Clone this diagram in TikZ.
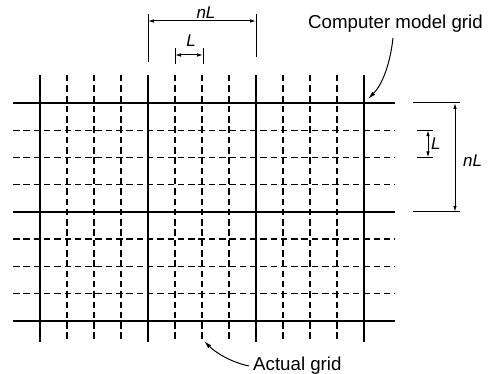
\documentclass[tikz,border=0pt]{standalone}
\usepackage{fontspec}
\setmainfont{Liberation Sans}
\usetikzlibrary{arrows.meta}
\begin{document}
\begin{tikzpicture}[x=1pt,y=-1pt,
  solidline/.style={line width=1.9pt},
  dashline/.style={line width=1.2pt,dash pattern=on 6.5pt off 3.8pt},
  dimline/.style={line width=1pt},
  dimarrow/.style={line width=1pt,{Latex[length=6pt,width=3.6pt]}-{Latex[length=6pt,width=3.6pt]}},
  lead/.style={line width=1pt,-{Latex[length=8pt,width=4pt]}},
  lbl/.style={font=\fontsize{18.7}{22}\selectfont,inner sep=0pt},
  ilbl/.style={font=\fontsize{17}{20}\selectfont\itshape,inner sep=0pt}]
\useasboundingbox (0,0) rectangle (488,374);
% vertical grid lines
\foreach \i in {0,...,12}{
  \pgfmathsetmacro{\xx}{40+27*\i}
  \pgfmathtruncatemacro{\m}{mod(\i,4)}
  \ifnum\m=0
    \draw[solidline] (\xx,75) -- (\xx,342);
  \else
    \draw[dashline] (\xx,75) -- (\xx,342);
  \fi
}
% horizontal grid lines
\foreach \j in {0,...,8}{
  \pgfmathsetmacro{\yy}{103+27.2*\j}
  \pgfmathtruncatemacro{\m}{mod(\j,4)}
  \ifnum\m=0
    \draw[solidline] (13,\yy) -- (395,\yy);
  \else
    \draw[dashline] (13,\yy) -- (395,\yy);
  \fi
}
% top dimension nL
\coordinate (tnl1a) at (148,14); \coordinate (tnl1b) at (148,62);
\coordinate (tnl2a) at (256,14); \coordinate (tnl2b) at (256,57);
\draw[dimline] (tnl1a) -- (tnl1b);
\draw[dimline] (tnl2a) -- (tnl2b);
\coordinate (tnlL) at (148,21); \coordinate (tnlR) at (256,21);
\draw[dimarrow] (tnlL) -- (tnlR);
\node[ilbl,anchor=base] (tnl) at (206,19) {nL};
% top dimension L
\coordinate (tl1a) at (175,48); \coordinate (tl1b) at (175,64);
\coordinate (tl2a) at (203,48); \coordinate (tl2b) at (203,64);
\draw[dimline] (tl1a) -- (tl1b);
\draw[dimline] (tl2a) -- (tl2b);
\coordinate (tlL) at (175,55); \coordinate (tlR) at (203,55);
\draw[dimarrow] (tlL) -- (tlR);
\node[ilbl,anchor=base] (tl) at (191,47) {L};
% right dimension nL
\coordinate (rnl1a) at (413,103); \coordinate (rnl1b) at (460,103);
\coordinate (rnl2a) at (413,211.8); \coordinate (rnl2b) at (460,211.8);
\draw[dimline] (rnl1a) -- (rnl1b);
\draw[dimline] (rnl2a) -- (rnl2b);
\coordinate (rnlT) at (455,103); \coordinate (rnlB) at (455,211.8);
\draw[dimarrow] (rnlT) -- (rnlB);
\node[ilbl,anchor=base west] (rnl) at (463,167) {nL};
% right dimension L
\coordinate (rl1a) at (417,130.2); \coordinate (rl1b) at (433,130.2);
\coordinate (rl2a) at (417,157.4); \coordinate (rl2b) at (433,157.4);
\draw[dimline] (rl1a) -- (rl1b);
\draw[dimline] (rl2a) -- (rl2b);
\coordinate (rlT) at (428,130.2); \coordinate (rlB) at (428,157.4);
\draw[dimarrow] (rlT) -- (rlB);
\node[ilbl,anchor=base west] (rl) at (431,150) {L};
% labels and leaders
\node[lbl,anchor=base east] (cmg) at (483,29) {Computer model grid};
\coordinate (cmgs) at (393,38);
\coordinate (cmgt) at (368,99);
\draw[lead] (cmgs) .. controls (390,65) and (382,85) .. (cmgt);
\node[lbl,anchor=base west] (ag) at (253,371) {Actual grid};
\coordinate (ags) at (249,366);
\coordinate (agt) at (204,341);
\draw[lead] (ags) .. controls (230,362) and (215,352) .. (agt);
\end{tikzpicture}
\end{document}
